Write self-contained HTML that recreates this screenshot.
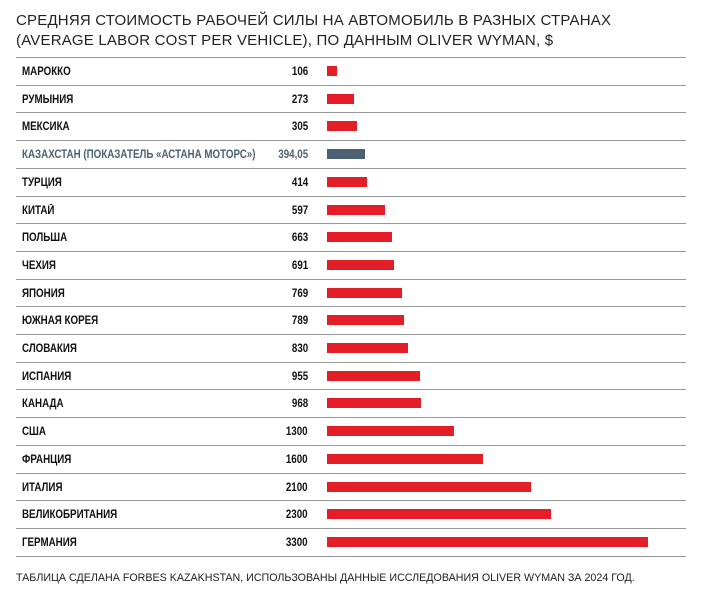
<!DOCTYPE html><html><head><meta charset="utf-8"><style>
body{margin:0;width:714px;height:600px;background:#fff;font-family:"Liberation Sans",sans-serif;position:relative;overflow:hidden}
.t{position:absolute;left:16px;font-size:15px;color:#222;letter-spacing:0.2px;white-space:nowrap}
.ln{position:absolute;left:16px;width:670px;height:1px;background:#999}
.lb{position:absolute;left:22px;font-size:11.5px;font-weight:bold;color:#111;transform:scaleX(0.85);transform-origin:left;white-space:nowrap}
.v{position:absolute;right:406px;font-size:11.5px;font-weight:bold;color:#111;transform:scaleX(0.85);transform-origin:right;white-space:nowrap}
.b{position:absolute;left:327px;height:10px;background:#e31e26}
.k{color:#4a6273}
</style></head><body>
<div class="t" style="top:12px">СРЕДНЯЯ СТОИМОСТЬ РАБОЧЕЙ СИЛЫ НА АВТОМОБИЛЬ В РАЗНЫХ СТРАНАХ</div>
<div class="t" style="top:32px">(AVERAGE LABOR COST PER VEHICLE), ПО ДАННЫМ OLIVER WYMAN, $</div>
<div id="c"></div>
<div style="position:absolute;left:16px;top:572px;font-size:10.7px;color:#222;white-space:nowrap">ТАБЛИЦА СДЕЛАНА FORBES KAZAKHSTAN, ИСПОЛЬЗОВАНЫ ДАННЫЕ ИССЛЕДОВАНИЯ OLIVER WYMAN ЗА 2024 ГОД.</div>
<script>
var d=[["МАРОККО",106,"106"],["РУМЫНИЯ",273,"273"],["МЕКСИКА",305,"305"],["КАЗАХСТАН (ПОКАЗАТЕЛЬ «АСТАНА МОТОРС»)",394.05,"394,05",1],["ТУРЦИЯ",414,"414"],["КИТАЙ",597,"597"],["ПОЛЬША",663,"663"],["ЧЕХИЯ",691,"691"],["ЯПОНИЯ",769,"769"],["ЮЖНАЯ КОРЕЯ",789,"789"],["СЛОВАКИЯ",830,"830"],["ИСПАНИЯ",955,"955"],["КАНАДА",968,"968"],["США",1300,"1300"],["ФРАНЦИЯ",1600,"1600"],["ИТАЛИЯ",2100,"2100"],["ВЕЛИКОБРИТАНИЯ",2300,"2300"],["ГЕРМАНИЯ",3300,"3300"]];
var h='';d.forEach(function(r,i){var y=57+i*27.7,c=y+14;var k=r[3]?' k':'';
h+='<div class="ln" style="top:'+y.toFixed(1)+'px"></div>';
h+='<div class="lb'+k+'" style="top:'+(c-5).toFixed(1)+'px">'+r[0]+'</div>';
h+='<div class="v'+k+'" style="top:'+(c-5).toFixed(1)+'px">'+r[2]+'</div>';
h+='<div class="b" style="top:'+(c-5).toFixed(1)+'px;width:'+(r[1]*0.0973).toFixed(1)+'px'+(r[3]?';background:#4a6273':'')+'"></div>';});
h+='<div class="ln" style="top:'+(57+18*27.7).toFixed(1)+'px"></div>';
document.getElementById('c').innerHTML=h;
</script></body></html>
